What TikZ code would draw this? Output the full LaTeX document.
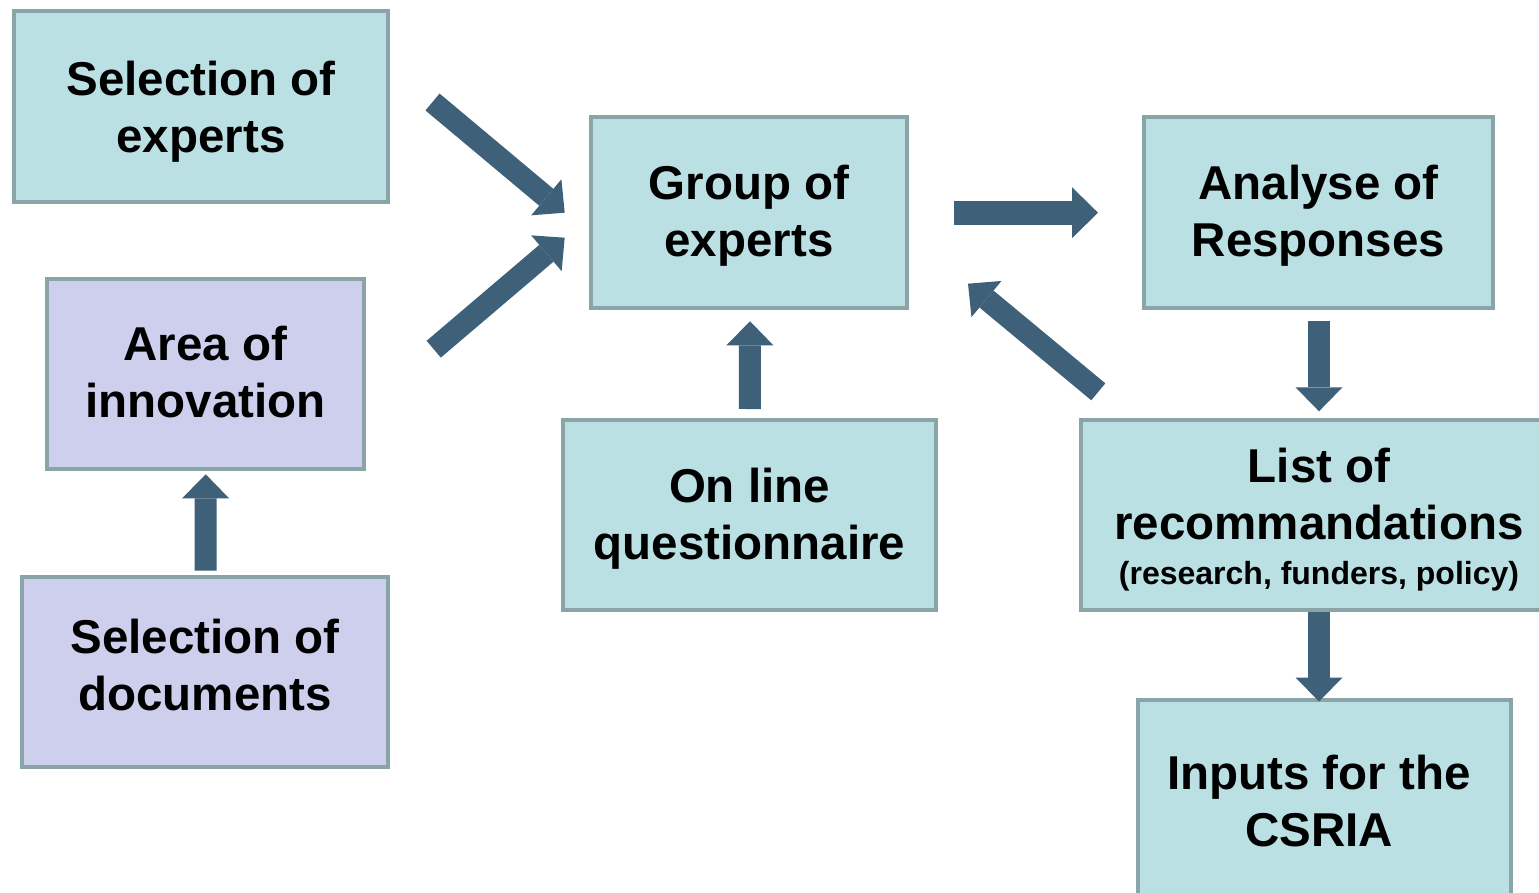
\documentclass[tikz,border=0pt]{standalone}
\usepackage{fontspec}
\setmainfont{Liberation Sans}
\usetikzlibrary{arrows.meta,calc}
\definecolor{boxfill}{RGB}{186,224,227}
\definecolor{lavfill}{RGB}{205,207,237}
\definecolor{boxline}{RGB}{138,165,167}
\definecolor{arrowc}{RGB}{62,96,121}
\tikzset{
  box/.style={draw=boxline, fill=boxfill, line width=4pt, rectangle, inner sep=0pt},
  lav/.style={box, fill=lavfill},
  txt/.style={inner sep=0pt, align=center, font=\bfseries\fontsize{47.5}{57}\selectfont},
  blk/.style={draw=arrowc, line width=22pt, line cap=butt,
    -{Triangle[width=47pt,length=24pt,line width=0pt]}},
}
\begin{document}
\begin{tikzpicture}[x=1pt,y=-1pt]
\useasboundingbox (0,0) rectangle (1539,892);
\node[box, minimum width=374pt, minimum height=191pt] (selexp) at (201,106.5) {};
\node[lav, minimum width=317pt, minimum height=190pt] (area) at (205.5,374) {};
\node[lav, minimum width=366pt, minimum height=190pt] (seldoc) at (205,672) {};
\node[box, minimum width=316pt, minimum height=191pt] (group) at (749,212.5) {};
\node[box, minimum width=373pt, minimum height=190pt] (online) at (749.5,515) {};
\node[box, minimum width=349pt, minimum height=191pt] (analyse) at (1318.5,212.5) {};
\node[box, minimum width=476pt, minimum height=190pt] (list) at (1319,515) {};
\node[box, minimum width=373pt, minimum height=195pt] (inputs) at (1324.5,797.5) {};
% texts
\node[txt] (selexp-t) at ($(selexp.center)+(0,5)$) {Selection of\\experts};
\node[txt] (area-t) at ($(area.center)+(0,-2)$) {Area of\\innovation};
\node[txt] (seldoc-t) at ($(seldoc.center)+(0,-7)$) {Selection of\\documents};
\node[txt] (group-t) at ($(group.center)+(0,3)$) {Group of\\experts};
\node[txt] (online-t) at ($(online.center)+(0,4)$) {On line\\questionnaire};
\node[txt] (analyse-t) at ($(analyse.center)+(0,3)$) {Analyse of\\Responses};
\node[txt] (list-t) at ($(list.center)+(0,5)$) {List of\\recommandations\\[-12pt]{\fontsize{32}{38}\selectfont(research, funders, policy)}};
\node[txt] (inputs-t) at ($(inputs.center)+(-5.5,4)$) {Inputs for the\\CSRIA};
% connectors
\coordinate (aT) at ($(selexp.east)+(42.5,-4.5)$);
\coordinate (aH) at ($(group.west)+(-24.3,0.2)$);
\coordinate (bT) at ($(area.east)+(67.7,-24.8)$);
\coordinate (bH) at ($(group.west)+(-24.3,25.2)$);
\coordinate (cT) at ($(group.east)+(44.7,0.2)$);
\coordinate (cH) at ($(analyse.west)+(-44,0.2)$);
\coordinate (dT) at ($(list.north west)+(19.3,-26.2)$);
\coordinate (dH) at ($(group.south east)+(59,-26.3)$);
\coordinate (eT) at ($(analyse.south)+(0.5,11)$);
\coordinate (eH) at ($(list.north)+(0,-6.7)$);
\coordinate (fT) at ($(list.south)+(0,0)$);
\coordinate (fH) at ($(inputs.north)+(-5.5,3.5)$);
\coordinate (gT) at ($(online.north)+(0.3,-9)$);
\coordinate (gH) at ($(group.south)+(1,11.3)$);
\coordinate (hT) at ($(seldoc.north)+(0.5,-4.3)$);
\coordinate (hH) at ($(area.south)+(0.2,3.3)$);
\draw[blk] (aT) -- (aH);
\draw[blk] (bT) -- (bH);
\draw[blk, line width=24pt, -{Triangle[width=51pt,length=26pt,line width=0pt]}] (cT) -- (cH);
\draw[blk] (dT) -- (dH);
\draw[blk] (eT) -- (eH);
\draw[blk] (fT) -- (fH);
\draw[blk] (gT) -- (gH);
\draw[blk] (hT) -- (hH);
\end{tikzpicture}
\end{document}
